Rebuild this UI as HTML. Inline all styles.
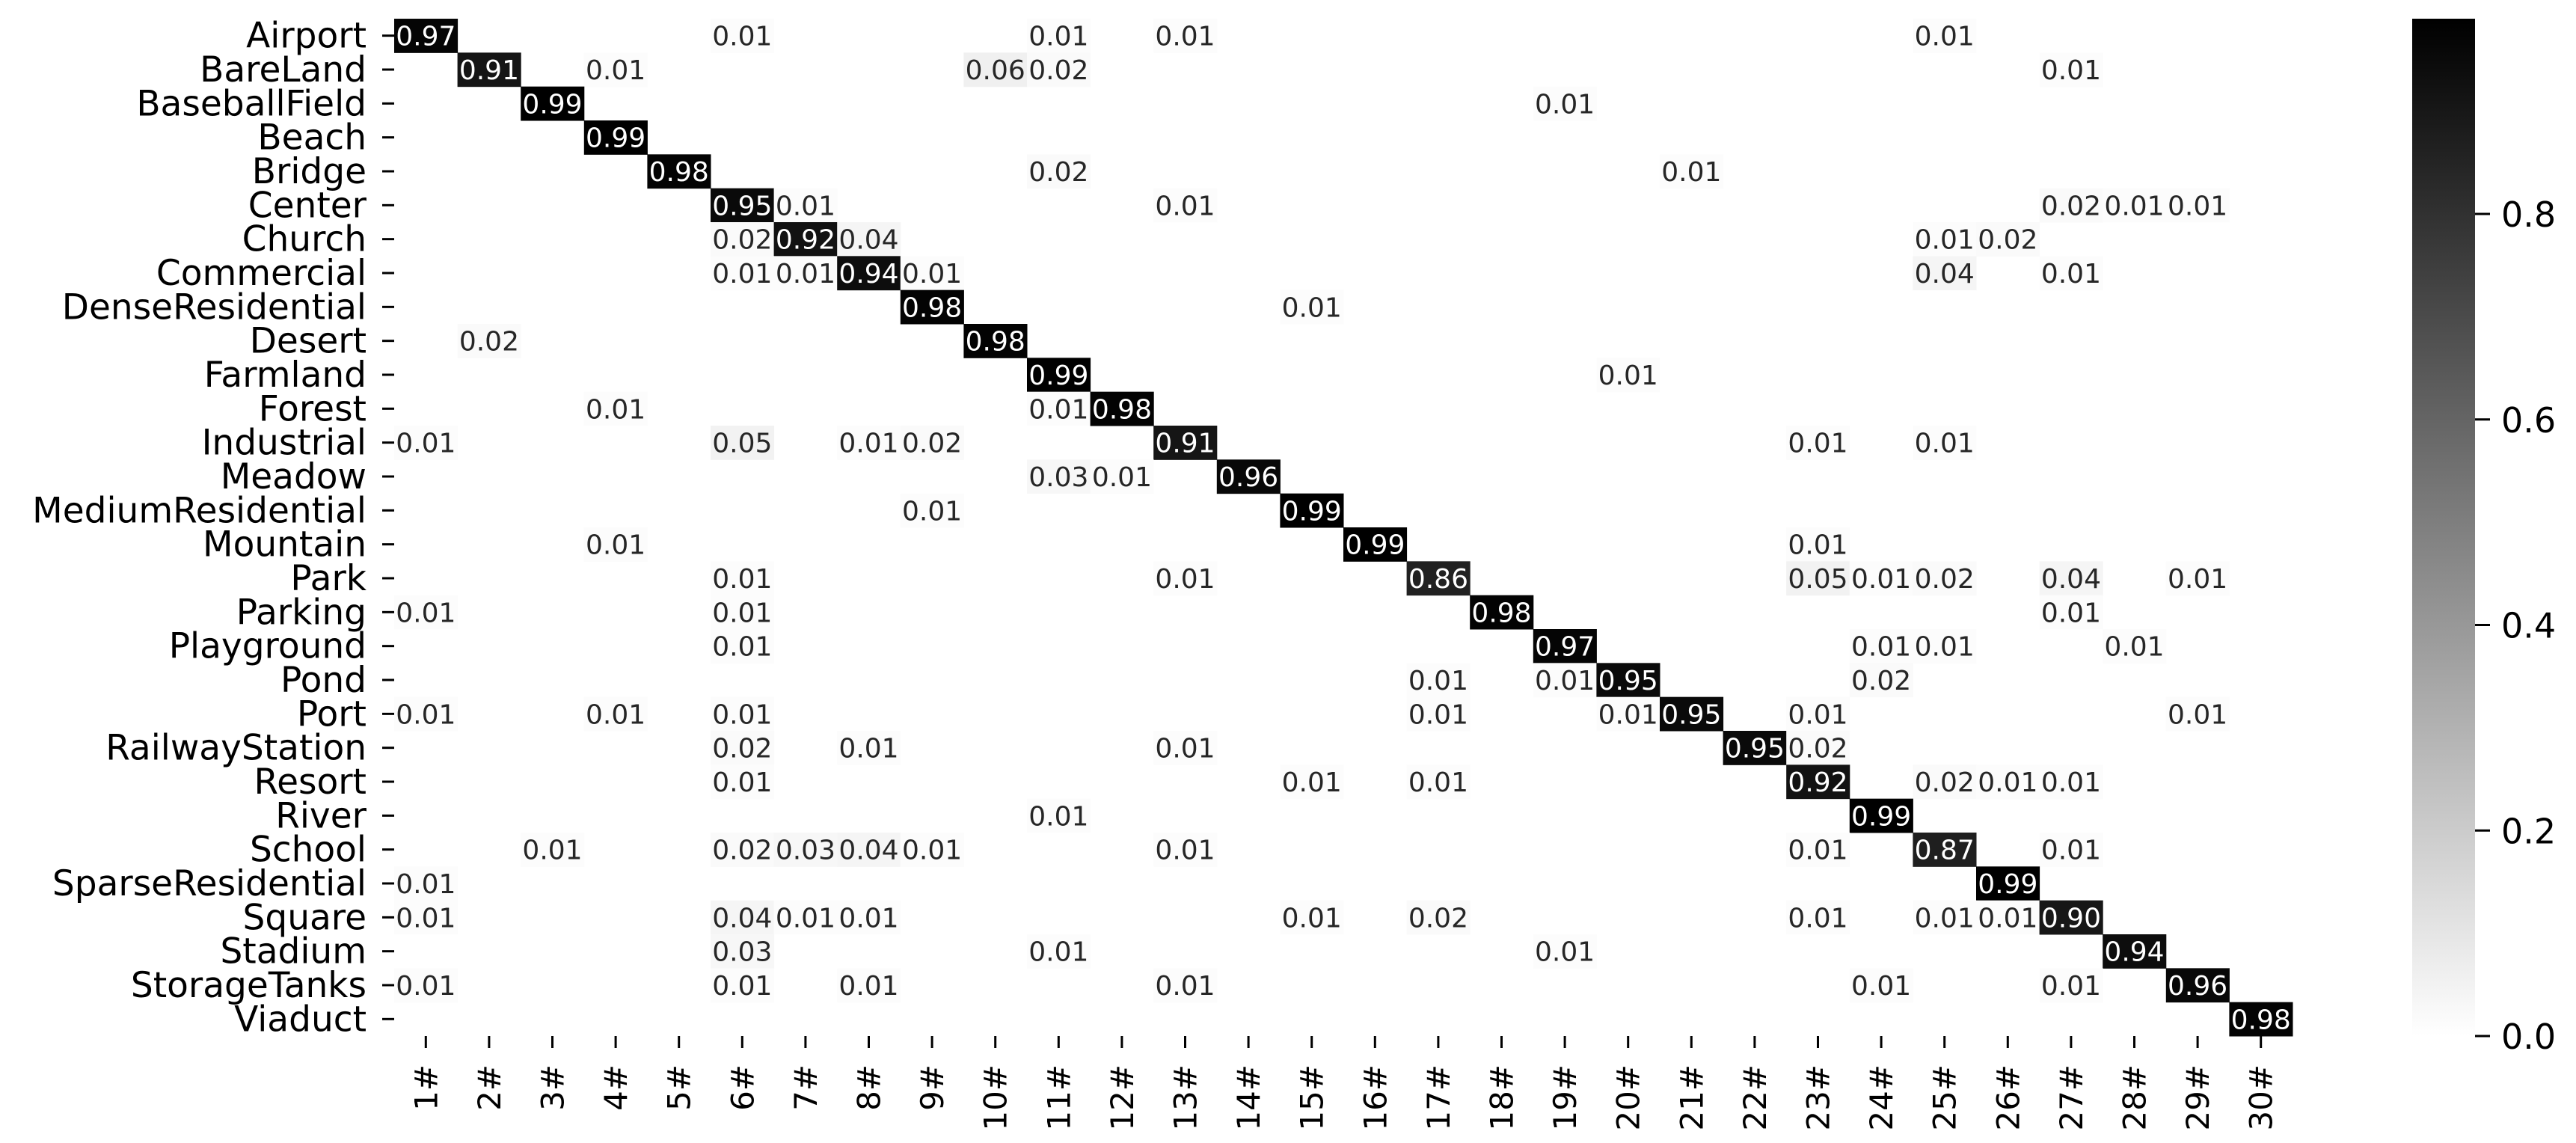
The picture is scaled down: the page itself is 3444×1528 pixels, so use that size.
<!DOCTYPE html>
<html><head><meta charset="utf-8">
<style>
html,body{margin:0;padding:0;background:#fff;}
svg{display:block;font-family:"DejaVu Sans","Liberation Sans",sans-serif;}
</style></head>
<body>
<svg id="chart" width="3444" height="1528" viewBox="0 0 3444 1528" xmlns="http://www.w3.org/2000/svg">
<defs>
<linearGradient id="cbgrad" x1="0" y1="1" x2="0" y2="0">
<stop offset="0" stop-color="#ffffff"/>
<stop offset="1" stop-color="#000000"/>
</linearGradient>
</defs>
<g id="cells"></g>
<g id="annots"></g>
<g id="yaxis"></g>
<g id="xaxis"></g>
<g id="cbar"></g>
</svg>
<script>
const rowLabels = ["Airport","BareLand","BaseballField","Beach","Bridge","Center","Church","Commercial","DenseResidential","Desert","Farmland","Forest","Industrial","Meadow","MediumResidential","Mountain","Park","Parking","Playground","Pond","Port","RailwayStation","Resort","River","School","SparseResidential","Square","Stadium","StorageTanks","Viaduct"];
const colLabels = ["1#","2#","3#","4#","5#","6#","7#","8#","9#","10#","11#","12#","13#","14#","15#","16#","17#","18#","19#","20#","21#","22#","23#","24#","25#","26#","27#","28#","29#","30#"];
// non-zero cells: [row index, column index, value]
const cellValues = [
[0,0,0.97],[0,5,0.01],[0,10,0.01],[0,12,0.01],[0,24,0.01],
[1,1,0.91],[1,3,0.01],[1,9,0.06],[1,10,0.02],[1,26,0.01],
[2,2,0.99],[2,18,0.01],
[3,3,0.99],
[4,4,0.98],[4,10,0.02],[4,20,0.01],
[5,5,0.95],[5,6,0.01],[5,12,0.01],[5,26,0.02],[5,27,0.01],[5,28,0.01],
[6,5,0.02],[6,6,0.92],[6,7,0.04],[6,24,0.01],[6,25,0.02],
[7,5,0.01],[7,6,0.01],[7,7,0.94],[7,8,0.01],[7,24,0.04],[7,26,0.01],
[8,8,0.98],[8,14,0.01],
[9,1,0.02],[9,9,0.98],
[10,10,0.99],[10,19,0.01],
[11,3,0.01],[11,10,0.01],[11,11,0.98],
[12,0,0.01],[12,5,0.05],[12,7,0.01],[12,8,0.02],[12,12,0.91],[12,22,0.01],[12,24,0.01],
[13,10,0.03],[13,11,0.01],[13,13,0.96],
[14,8,0.01],[14,14,0.99],
[15,3,0.01],[15,15,0.99],[15,22,0.01],
[16,5,0.01],[16,12,0.01],[16,16,0.86],[16,22,0.05],[16,23,0.01],[16,24,0.02],[16,26,0.04],[16,28,0.01],
[17,0,0.01],[17,5,0.01],[17,17,0.98],[17,26,0.01],
[18,5,0.01],[18,18,0.97],[18,23,0.01],[18,24,0.01],[18,27,0.01],
[19,16,0.01],[19,18,0.01],[19,19,0.95],[19,23,0.02],
[20,0,0.01],[20,3,0.01],[20,5,0.01],[20,16,0.01],[20,19,0.01],[20,20,0.95],[20,22,0.01],[20,28,0.01],
[21,5,0.02],[21,7,0.01],[21,12,0.01],[21,21,0.95],[21,22,0.02],
[22,5,0.01],[22,14,0.01],[22,16,0.01],[22,22,0.92],[22,24,0.02],[22,25,0.01],[22,26,0.01],
[23,10,0.01],[23,23,0.99],
[24,2,0.01],[24,5,0.02],[24,6,0.03],[24,7,0.04],[24,8,0.01],[24,12,0.01],[24,22,0.01],[24,24,0.87],[24,26,0.01],
[25,0,0.01],[25,25,0.99],
[26,0,0.01],[26,5,0.04],[26,6,0.01],[26,7,0.01],[26,14,0.01],[26,16,0.02],[26,22,0.01],[26,24,0.01],[26,25,0.01],[26,26,0.90],
[27,5,0.03],[27,10,0.01],[27,18,0.01],[27,27,0.94],
[28,0,0.01],[28,5,0.01],[28,7,0.01],[28,12,0.01],[28,23,0.01],[28,26,0.01],[28,28,0.96],
[29,29,0.98]
];
const cbarTicks = [0.0,0.2,0.4,0.6,0.8];
const cbarTickLabels = ["0.0","0.2","0.4","0.6","0.8"];
const vMin = 0, vMax = 0.99;

const NS = "http://www.w3.org/2000/svg";
const L = 527, R = 3065, T = 25, B = 1385;
const cw = (R - L) / colLabels.length, ch = (B - T) / rowLabels.length;
const xPos = c => L + c * cw;
const yPos = r => T + r * ch;
const colorOf = v => { const t = Math.max(0, Math.min(1, (v - vMin) / (vMax - vMin))); const g = Math.round(255 * (1 - t)); return `rgb(${g},${g},${g})`; };
function mk(tag, attrs, parent) { const e = document.createElementNS(NS, tag); for (const k in attrs) e.setAttribute(k, attrs[k]); parent.appendChild(e); return e; }

const gC = document.getElementById('cells'), gA = document.getElementById('annots');
cellValues.forEach(([r, c, v]) => {
  const rect = mk('rect', {x: xPos(c), y: yPos(r), width: cw + 0.5, height: ch + 0.5, fill: colorOf(v)}, gC);
  
  
  const t = (v - vMin) / (vMax - vMin);
  const tx = mk('text', {x: xPos(c) + cw / 2, y: yPos(r) + ch / 2 + 13, 'text-anchor': 'middle', 'font-size': 36, fill: t > 0.5 ? '#ffffff' : '#262626'}, gA);
  tx.textContent = v.toFixed(2);
  
  
});

const gY = document.getElementById('yaxis');
rowLabels.forEach((lab, r) => {
  const cy = yPos(r) + ch / 2;
  const tk = mk('line', {x1: L - 16, x2: L, y1: cy, y2: cy, stroke: '#000', 'stroke-width': 3}, gY);
  
  
  const t = mk('text', {x: 490, y: cy + 16, 'text-anchor': 'end', 'font-size': 47}, gY);
  t.textContent = lab;
  
  
});

const gX = document.getElementById('xaxis');
colLabels.forEach((lab, c) => {
  const cx = xPos(c) + cw / 2;
  const tk = mk('line', {x1: cx, x2: cx, y1: B, y2: B + 16, stroke: '#000', 'stroke-width': 3}, gX);
  
  
  const t = mk('text', {x: 0, y: 0, 'text-anchor': 'end', 'font-size': 42, transform: `translate(${cx + 15},${B + 38}) rotate(-90)`}, gX);
  t.textContent = lab;
  
  
});

const gB = document.getElementById('cbar');
const CL = 3225, CR = 3309;
const cbY = v => B - (v - vMin) / (vMax - vMin) * (B - T);
const bar = mk('rect', {x: CL, y: T, width: CR - CL, height: B - T, fill: 'url(#cbgrad)'}, gB);


cbarTicks.forEach((v, i) => {
  const y = cbY(v);
  const tk = mk('line', {x1: CR, x2: CR + 20, y1: y, y2: y, stroke: '#000', 'stroke-width': 3}, gB);
  
  
  const t = mk('text', {x: 3344, y: y + 17, 'font-size': 46}, gB);
  t.textContent = cbarTickLabels[i];
  
  
});
</script>
</body></html>
